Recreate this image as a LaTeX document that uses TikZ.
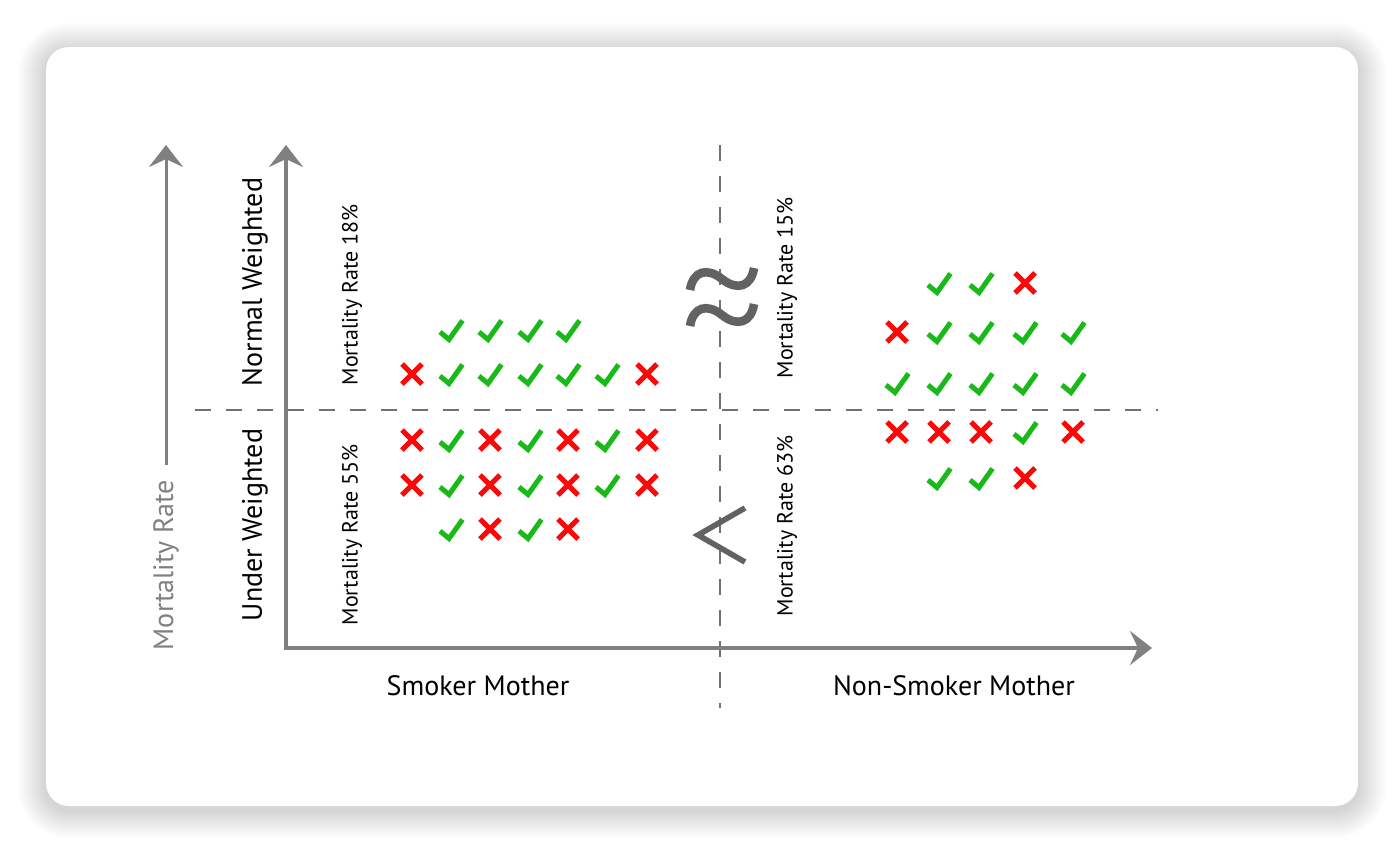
\documentclass[tikz,border=0pt]{standalone}
\usepackage{fontspec}
\setmainfont{PT Sans}
\usetikzlibrary{arrows.meta}
\definecolor{axisgray}{RGB}{128,128,128}
\definecolor{dashgray}{RGB}{112,112,112}
\definecolor{symgray}{RGB}{98,98,98}
\definecolor{okgreen}{RGB}{24,186,24}
\definecolor{nored}{RGB}{252,8,8}
\tikzset{
  >={Stealth[length=11pt,width=17pt,inset=4pt]},
  axis/.style={axisgray, line width=1.75pt},
  divider/.style={dashgray, line width=1pt, dash pattern=on 8pt off 7.5pt},
  biglabel/.style={rotate=90, font=\fontsize{14}{16}\selectfont},
  ratelabel/.style={rotate=90, font=\fontsize{11}{13}\selectfont},
  okmark/.pic={\draw[okgreen, line width=2.5pt] (-11,2) -- (-2,9.5) -- (11.5,-9.5);},
  xmark/.pic={\draw[nored, line width=2.6pt] (-10,-10) -- (10,10) (-10,10) -- (10,-10);}
}
\begin{document}
\begin{tikzpicture}[x=0.5pt,y=-0.5pt]
\useasboundingbox (0,0) rectangle (1400,858);
\foreach \i in {1,...,14}
  \fill[black, opacity=0.011, rounded corners={11.5pt+\i pt}] (46-2*\i,51-2*\i) rectangle (1358+2*\i,810+2*\i);
\fill[white, rounded corners=11.5pt] (46,47) rectangle (1358,806);

\coordinate (mortbase) at (166,465);
\coordinate (morttip) at (166,145);
\coordinate (ytip) at (286,145);
\coordinate (xtip) at (1152,648);
\coordinate (hleft) at (195,410);
\coordinate (hright) at (1158,410);
\coordinate (vtop) at (720,145);
\coordinate (vbottom) at (720,708);

\draw[divider] (hleft) -- (hright);
\draw[divider] (vtop) -- (vbottom);
\draw[axis, ->, line width=1.5pt] (mortbase) -- (morttip);
\draw[axis, <->] (ytip) |- (xtip);

\node[biglabel, text=axisgray] (mortlabel) at (166,565) {Mortality Rate};
\node[biglabel] (normallabel) at (255,282) {Normal Weighted};
\node[biglabel] (underlabel) at (255,525) {Under Weighted};
\node[ratelabel] (rate18) at (352,295) {Mortality Rate 18\%};
\node[ratelabel] (rate55) at (352,535) {Mortality Rate 55\%};
\node[ratelabel] (rate15) at (787,288) {Mortality Rate 15\%};
\node[ratelabel] (rate63) at (787,526) {Mortality Rate 63\%};
\node[font=\fontsize{14}{16}\selectfont] (smokerlabel) at (478,686) {Smoker Mother};
\node[font=\fontsize{14}{16}\selectfont] (nonsmokerlabel) at (954,686) {Non-Smoker Mother};

\foreach \dy in {0,36}
  \draw[symgray, line width=4.3pt] (690,290+\dy) .. controls (693,271+\dy) and (707,267+\dy) .. (722,279+\dy) .. controls (737,291+\dy) and (751,287+\dy) .. (754,268+\dy);
\draw[symgray, line width=2.8pt] (745,508) -- (698,535) -- (745,562);

\foreach \x in {451,490,530,568} \pic at (\x,330) {okmark};
\foreach \x in {451,490,530,568,607} \pic at (\x,374) {okmark};
\foreach \x in {412,647} \pic at (\x,374) {xmark};
\foreach \y in {440,485} {
  \foreach \x in {451,530,607} \pic at (\x,\y) {okmark};
  \foreach \x in {412,490,568,647} \pic at (\x,\y) {xmark};
}
\foreach \x in {451,530} \pic at (\x,529) {okmark};
\foreach \x in {490,568} \pic at (\x,529) {xmark};

\foreach \x in {939,981} \pic at (\x,283) {okmark};
\pic at (1025,283) {xmark};
\foreach \x in {939,981,1025,1073} \pic at (\x,332) {okmark};
\pic at (897,332) {xmark};
\foreach \x in {897,939,981,1025,1073} \pic at (\x,383) {okmark};
\foreach \x in {897,939,981,1073} \pic at (\x,432) {xmark};
\pic at (1025,432) {okmark};
\foreach \x in {939,981} \pic at (\x,478) {okmark};
\pic at (1025,478) {xmark};
\end{tikzpicture}
\end{document}
